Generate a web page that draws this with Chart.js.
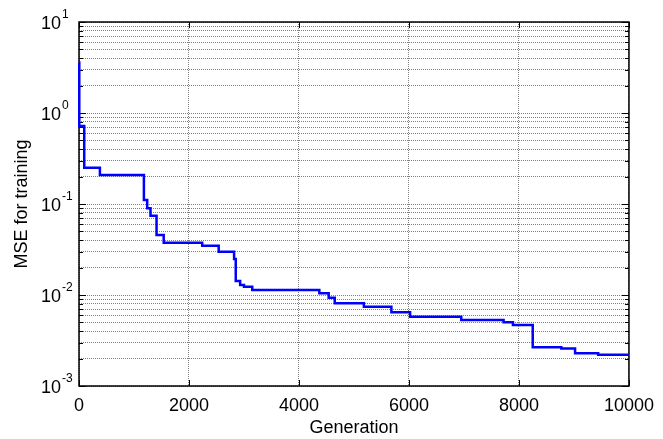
<!DOCTYPE html>
<html>
<head>
<meta charset="utf-8">
<script src="https://cdn.jsdelivr.net/npm/chart.js@4.4.0/dist/chart.umd.min.js"></script>
<style>
html,body{margin:0;padding:0;background:#ffffff;}
#wrap{width:663px;height:439px;}
</style>
</head>
<body>
<div id="wrap"><canvas id="c" width="663" height="439"></canvas></div>
<script>
// ---- data ----
const generations = [0, 5, 95, 380, 1180, 1240, 1300, 1410, 1540, 2240, 2540, 2820, 2850, 2930, 3000, 3150, 4370, 4540, 4650, 5180, 5680, 6020, 6950, 7720, 7890, 8250, 8770, 9020, 9440, 10000];
const mseValues   = [3.6, 0.72, 0.25, 0.208, 0.111, 0.0897, 0.0744, 0.0457, 0.0376, 0.0348, 0.0299, 0.0249, 0.01426, 0.0129, 0.0123, 0.01135, 0.01045, 0.00935, 0.0081, 0.00745, 0.00645, 0.00578, 0.0053, 0.00501, 0.00468, 0.00266, 0.00259, 0.00229, 0.0022, 0.0022];
const xTickValues = [0, 2000, 4000, 6000, 8000, 10000];
const yDecadeExponents = [-3, -2, -1, 0, 1];
const xAxisLabel = 'Generation';
const yAxisLabel = 'MSE for training';

const FONT = "'Liberation Sans', Arial, Helvetica, sans-serif";
const GRID = 'rgba(0,0,0,0.5)';

const matlabAxes = {
  id: 'matlabAxes',
  beforeDatasetsDraw(chart) {
    const {ctx, chartArea: a, scales: {x, y}} = chart;
    ctx.save();
    ctx.strokeStyle = '#000';
    ctx.lineWidth = 1;
    // inward y ticks (left and right)
    for (const t of y.ticks) {
      const py = Math.round(y.getPixelForValue(t.value)) + 0.5;
      const len = t.major ? 7 : 4;
      ctx.beginPath();
      ctx.moveTo(a.left, py); ctx.lineTo(a.left + len, py);
      ctx.moveTo(a.right, py); ctx.lineTo(a.right - len, py);
      ctx.stroke();
    }
    // inward x ticks (top and bottom)
    for (const t of x.ticks) {
      const px = Math.round(x.getPixelForValue(t.value)) + 0.5;
      ctx.beginPath();
      ctx.moveTo(px, a.top); ctx.lineTo(px, a.top + 6);
      ctx.moveTo(px, a.bottom); ctx.lineTo(px, a.bottom - 6);
      ctx.stroke();
    }
    // box
    ctx.lineWidth = 1.5;
    ctx.strokeRect(a.left, a.top, a.right - a.left, a.bottom - a.top);
    ctx.restore();
  },
  afterDraw(chart) {
    const {ctx, scales: {y}} = chart;
    ctx.save();
    ctx.fillStyle = '#000';
    const xr = y.right - 18;
    for (const e of yDecadeExponents) {
      const py = y.getPixelForValue(Math.pow(10, e));
      ctx.font = '18px ' + FONT;
      ctx.textAlign = 'right';
      ctx.textBaseline = 'alphabetic';
      ctx.fillText('10', xr, py + 7);
      ctx.font = '12px ' + FONT;
      ctx.textAlign = 'left';
      ctx.fillText(String(e), xr + 1, py - 4);
    }
    ctx.restore();
  }
};

new Chart(document.getElementById('c'), {
  type: 'line',
  data: {
    datasets: [{
      data: generations.map((g, i) => ({x: g, y: mseValues[i]})),
      borderColor: '#0000FF',
      borderWidth: 2.5,
      stepped: 'before',
      pointRadius: 0,
      fill: false,
      clip: false
    }]
  },
  options: {
    responsive: false,
    animation: false,
    devicePixelRatio: 1,
    layout: {padding: {top: 22, right: 25, left: 0, bottom: 0}},
    plugins: {legend: {display: false}, tooltip: {enabled: false}},
    scales: {
      x: {
        type: 'linear', min: 0, max: 10000,
        afterBuildTicks: s => { s.ticks = xTickValues.map(v => ({value: v})); },
        ticks: {font: {family: FONT, size: 18}, color: '#000', padding: 9, maxRotation: 0, autoSkip: false,
                callback: v => String(v)},
        grid: {color: GRID, lineWidth: 1, drawTicks: false, borderDash: [1, 1]},
        border: {display: false, dash: [1, 1]},
        title: {display: true, text: xAxisLabel, color: '#000', font: {family: FONT, size: 18}, padding: {top: 0, bottom: 0}},
        afterFit: s => { s.height = 53; }
      },
      y: {
        type: 'logarithmic', min: 0.001, max: 10,
        afterBuildTicks: s => {
          const t = [];
          for (let e = yDecadeExponents[0]; e < yDecadeExponents[yDecadeExponents.length - 1]; e++) {
            for (let m = 1; m <= 9; m++) {
              t.push({value: Number((m * Math.pow(10, e)).toPrecision(3)), major: m === 1});
            }
          }
          t.push({value: Math.pow(10, yDecadeExponents[yDecadeExponents.length - 1]), major: true});
          s.ticks = t;
        },
        ticks: {display: false},
        grid: {color: GRID, lineWidth: 1, drawTicks: false, borderDash: [1, 1]},
        border: {display: false, dash: [1, 1]},
        title: {display: true, text: yAxisLabel, color: '#000', font: {family: FONT, size: 18}, padding: {top: 11, bottom: 0}},
        afterFit: s => { s.width = 79; }
      }
    }
  },
  plugins: [matlabAxes]
});
</script>
</body>
</html>
